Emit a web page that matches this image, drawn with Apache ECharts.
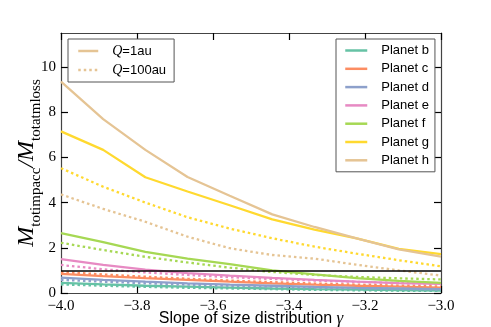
<!DOCTYPE html>
<html>
<head>
<meta charset="utf-8">
<script src="https://cdn.jsdelivr.net/npm/echarts@6/dist/echarts.min.js"></script>
<style>
	html, body { margin: 0; padding: 0; background: #fff; }
	#container { width: 491px; height: 327px; }
</style>
</head>
<body>
<div id="container"></div>
<script>
var gammaVals = [-4.0, -3.889, -3.778, -3.667, -3.556, -3.444, -3.333, -3.222, -3.111, -3.0];
var xTicks = [-4.0, -3.8, -3.6, -3.4, -3.2, -3.0];
var yTicks = [0, 2, 4, 6, 8, 10];
var refLevel = 1;

var planetNames = ['Planet b', 'Planet c', 'Planet d', 'Planet e', 'Planet f', 'Planet g', 'Planet h'];
var planetColors = ['#66c2a5', '#fc8d62', '#8da0cb', '#e78ac3', '#a6d854', '#ffd92f', '#e5c494'];

// Q = 1au
var b1 = [0.45, 0.38, 0.32, 0.28, 0.24, 0.2, 0.17, 0.15, 0.13, 0.11];
var c1 = [0.85, 0.75, 0.66, 0.58, 0.5, 0.43, 0.37, 0.32, 0.28, 0.24];
var d1 = [0.68, 0.58, 0.5, 0.43, 0.37, 0.32, 0.27, 0.23, 0.2, 0.17];
var e1 = [1.5, 1.24, 1.03, 0.88, 0.77, 0.67, 0.58, 0.5, 0.44, 0.4];
var f1 = [2.65, 2.25, 1.82, 1.52, 1.28, 1.0, 0.82, 0.66, 0.54, 0.45];
var g1 = [7.15, 6.33, 5.12, 4.49, 3.88, 3.26, 2.8, 2.42, 1.95, 1.72];
var h1 = [9.35, 7.69, 6.33, 5.13, 4.3, 3.48, 2.92, 2.42, 1.93, 1.61];

// Q = 100au
var b100 = [0.38, 0.32, 0.27, 0.23, 0.2, 0.17, 0.14, 0.12, 0.1, 0.09];
var c100 = [0.93, 0.82, 0.72, 0.63, 0.55, 0.48, 0.42, 0.37, 0.33, 0.29];
var d100 = [0.58, 0.5, 0.43, 0.37, 0.32, 0.28, 0.24, 0.21, 0.18, 0.15];
var e100 = [1.24, 1.05, 0.91, 0.8, 0.7, 0.62, 0.55, 0.49, 0.44, 0.4];
var f100 = [2.22, 1.9, 1.6, 1.35, 1.12, 0.93, 0.8, 0.71, 0.65, 0.6];
var g100 = [5.52, 4.7, 4.0, 3.35, 2.85, 2.42, 2.05, 1.74, 1.45, 1.18];
var h100 = [4.36, 3.72, 3.15, 2.49, 1.98, 1.68, 1.52, 1.25, 1.0, 0.77];

var q1Vals = [b1, c1, d1, e1, f1, g1, h1];
var q100Vals = [b100, c100, d100, e100, f100, g100, h100];

var dotted = [2.5, 3];
var serif = '"Liberation Serif", "DejaVu Serif", serif';
var sans = '"Liberation Sans", Arial, sans-serif';

function pairs(ys) {
	var out = [];
	for (var i = 0; i < ys.length; i++) {
		out.push([gammaVals[i], ys[i]]);
	}
	return out;
}

function minusFmt(v) {
	return v.toFixed(1).replace('-', '\u2212');
}

var series = [];
for (var i = 0; i < planetNames.length; i++) {
	series.push({
		name: planetNames[i],
		type: 'line',
		symbol: 'none',
		silent: true,
		z: 2,
		color: planetColors[i],
		lineStyle: { width: 2.3, color: planetColors[i] },
		data: pairs(q1Vals[i])
	});
	series.push({
		name: planetNames[i] + ' (Q=100au)',
		type: 'line',
		symbol: 'none',
		silent: true,
		z: 2,
		color: planetColors[i],
		lineStyle: { width: 2.3, color: planetColors[i], type: dotted, cap: 'butt' },
		data: pairs(q100Vals[i])
	});
}

/*legend only series*/
series.push({
	name: 'Q=1au', type: 'line', symbol: 'none', color: '#e5c494',
	lineStyle: { width: 2.3, color: '#e5c494' }, data: []
});
series.push({
	name: 'Q=100au', type: 'line', symbol: 'none', color: '#e5c494',
	lineStyle: { width: 2.3, color: '#e5c494', type: dotted, cap: 'butt' }, data: []
});

/*reference line*/
series.push({
	name: 'ref', type: 'line', symbol: 'none', data: [], silent: true,
	markLine: {
		silent: true, symbol: 'none', label: { show: false },
		lineStyle: { color: '#000', width: 1.5, type: 'solid' },
		data: [{ yAxis: refLevel }]
	}
});

var tickStyle = { show: true, inside: true, length: 7, lineStyle: { color: '#000', width: 1.2 } };
var lineStyle = { show: true, onZero: false, lineStyle: { color: '#444', width: 1.2 } };

var chart = echarts.init(document.getElementById('container'), null, { renderer: 'canvas' });
chart.setOption({
	animation: false,
	backgroundColor: '#fff',
	grid: { left: 61, right: 50, top: 33, bottom: 34, containLabel: false, outerBoundsMode: 'none' },
	legend: [{
		data: ['Q=1au', 'Q=100au'],
		orient: 'vertical',
		left: 68, top: 39,
		itemWidth: 20, itemHeight: 14, itemGap: 5,
		padding: [5, 8, 5, 9],
		borderColor: '#555', borderWidth: 1, borderRadius: 0,
		backgroundColor: '#fff',
		selectedMode: false,
		itemStyle: { opacity: 0 },
		lineStyle: { width: 2.5 },
		formatter: function(name) {
			return '{q|Q}{t|' + name.slice(1) + '}';
		},
		textStyle: {
			rich: {
				q: { fontFamily: serif, fontStyle: 'italic', fontSize: 14, color: '#000', padding: [0, 0, 0, 9] },
				t: { fontFamily: sans, fontSize: 13, color: '#000' }
			}
		}
	}, {
		data: planetNames,
		orient: 'vertical',
		left: 336, top: 39,
		itemWidth: 22, itemHeight: 14, itemGap: 5.3,
		padding: [5, 6, 5, 8],
		borderColor: '#555', borderWidth: 1, borderRadius: 0,
		backgroundColor: '#fff',
		selectedMode: false,
		itemStyle: { opacity: 0 },
		lineStyle: { width: 2.5 },
		textStyle: { fontFamily: sans, fontSize: 13, color: '#000', padding: [0, 0, 0, 9] }
	}],
	xAxis: [{
		type: 'value', min: -4, max: -3, interval: 0.2,
		axisLine: lineStyle,
		axisTick: Object.assign({ customValues: xTicks }, tickStyle),
		splitLine: { show: false },
		axisLabel: {
			customValues: xTicks, margin: 6,
			fontFamily: serif, fontSize: 15, color: '#000',
			formatter: minusFmt
		},
		name: '{a|Slope of size distribution }{g|\u03b3}',
		nameLocation: 'middle', nameGap: 17, nameMoveOverlap: false,
		nameTextStyle: {
			rich: {
				a: { fontFamily: sans, fontSize: 16, color: '#000' },
				g: { fontFamily: serif, fontStyle: 'italic', fontSize: 17, color: '#000' }
			}
		}
	}, {
		type: 'value', min: -4, max: -3, interval: 0.2, position: 'top',
		axisLine: lineStyle,
		axisTick: Object.assign({ customValues: xTicks }, tickStyle),
		axisLabel: { show: false },
		splitLine: { show: false }
	}],
	yAxis: [{
		type: 'value', min: 0, max: 11.5, interval: 2,
		axisLine: lineStyle,
		axisTick: Object.assign({ customValues: yTicks }, tickStyle),
		splitLine: { show: false },
		axisLabel: {
			customValues: yTicks, margin: 5,
			fontFamily: serif, fontSize: 15, color: '#000'
		},
		name: '{m|M}{s|totimpacc}{m|/M}{s|totatmloss}',
		nameLocation: 'middle', nameRotate: 90, nameGap: 17, nameMoveOverlap: false,
		nameTextStyle: {
			rich: {
				m: { fontFamily: serif, fontStyle: 'italic', fontSize: 24, color: '#000', verticalAlign: 'bottom', padding: [0, 0, 5, 0] },
				s: { fontFamily: serif, fontSize: 15, color: '#000', verticalAlign: 'bottom' }
			}
		}
	}, {
		type: 'value', min: 0, max: 11.5, interval: 2, position: 'right',
		axisLine: lineStyle,
		axisTick: Object.assign({ customValues: yTicks }, tickStyle),
		axisLabel: { show: false },
		splitLine: { show: false }
	}],
	series: series
});
</script>
</body>
</html>
